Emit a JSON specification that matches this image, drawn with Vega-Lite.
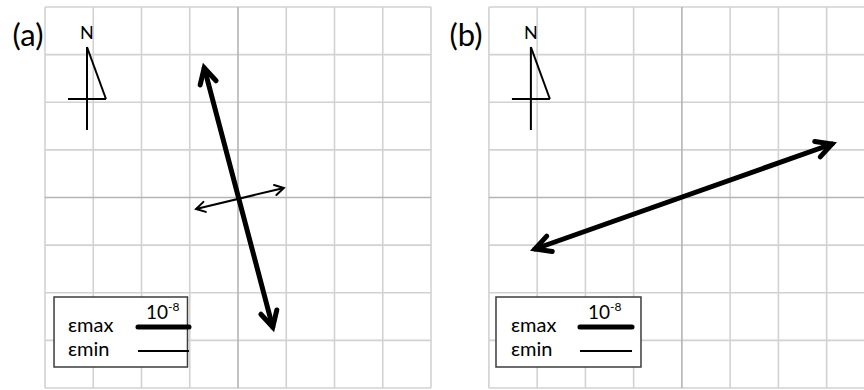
{
  "$schema": "https://vega.github.io/schema/vega-lite/v6.json",
  "width": 864,
  "height": 390,
  "autosize": {"type": "none"},
  "padding": 0,
  "background": "white",
  "config": {"view": {"stroke": null}, "text": {"font": "Lato, Open Sans, sans-serif"}},
  "datasets": {
    "grid": [
      {"x": 0, "y": 0, "x2": 0, "y2": 8, "kind": "minor"},
      {"x": 1, "y": 0, "x2": 1, "y2": 8, "kind": "minor"},
      {"x": 2, "y": 0, "x2": 2, "y2": 8, "kind": "minor"},
      {"x": 3, "y": 0, "x2": 3, "y2": 8, "kind": "minor"},
      {"x": 5, "y": 0, "x2": 5, "y2": 8, "kind": "minor"},
      {"x": 6, "y": 0, "x2": 6, "y2": 8, "kind": "minor"},
      {"x": 7, "y": 0, "x2": 7, "y2": 8, "kind": "minor"},
      {"x": 8, "y": 0, "x2": 8, "y2": 8, "kind": "minor"},
      {"x": 0, "y": 0, "x2": 8, "y2": 0, "kind": "minor"},
      {"x": 0, "y": 1, "x2": 8, "y2": 1, "kind": "minor"},
      {"x": 0, "y": 2, "x2": 8, "y2": 2, "kind": "minor"},
      {"x": 0, "y": 3, "x2": 8, "y2": 3, "kind": "minor"},
      {"x": 0, "y": 5, "x2": 8, "y2": 5, "kind": "minor"},
      {"x": 0, "y": 6, "x2": 8, "y2": 6, "kind": "minor"},
      {"x": 0, "y": 7, "x2": 8, "y2": 7, "kind": "minor"},
      {"x": 0, "y": 8, "x2": 8, "y2": 8, "kind": "minor"},
      {"x": 4, "y": 0, "x2": 4, "y2": 8, "kind": "center"},
      {"x": 0, "y": 4, "x2": 8, "y2": 4, "kind": "center"},
      {"x": 9.2, "y": 0, "x2": 9.2, "y2": 8, "kind": "minor"},
      {"x": 10.2, "y": 0, "x2": 10.2, "y2": 8, "kind": "minor"},
      {"x": 11.2, "y": 0, "x2": 11.2, "y2": 8, "kind": "minor"},
      {"x": 12.2, "y": 0, "x2": 12.2, "y2": 8, "kind": "minor"},
      {"x": 14.2, "y": 0, "x2": 14.2, "y2": 8, "kind": "minor"},
      {"x": 15.2, "y": 0, "x2": 15.2, "y2": 8, "kind": "minor"},
      {"x": 16.2, "y": 0, "x2": 16.2, "y2": 8, "kind": "minor"},
      {"x": 17.2, "y": 0, "x2": 17.2, "y2": 8, "kind": "minor"},
      {"x": 9.2, "y": 0, "x2": 17.2, "y2": 0, "kind": "minor"},
      {"x": 9.2, "y": 1, "x2": 17.2, "y2": 1, "kind": "minor"},
      {"x": 9.2, "y": 2, "x2": 17.2, "y2": 2, "kind": "minor"},
      {"x": 9.2, "y": 3, "x2": 17.2, "y2": 3, "kind": "minor"},
      {"x": 9.2, "y": 5, "x2": 17.2, "y2": 5, "kind": "minor"},
      {"x": 9.2, "y": 6, "x2": 17.2, "y2": 6, "kind": "minor"},
      {"x": 9.2, "y": 7, "x2": 17.2, "y2": 7, "kind": "minor"},
      {"x": 9.2, "y": 8, "x2": 17.2, "y2": 8, "kind": "minor"},
      {"x": 13.2, "y": 0, "x2": 13.2, "y2": 8, "kind": "center"},
      {"x": 9.2, "y": 4, "x2": 17.2, "y2": 4, "kind": "center"}
    ],
    "boxes": [
      {"panel": "a", "x": 0.187, "y": 1.911, "x2": 2.953, "y2": 0.441},
      {"panel": "b", "x": 9.347, "y": 1.911, "x2": 12.352, "y2": 0.441}
    ],
    "segs": [
      {"panel": "a", "kind": "max", "x": 3.30, "y": 6.72, "x2": 4.72, "y2": 1.28},
      {"panel": "a", "kind": "min", "x": 3.13, "y": 3.76, "x2": 4.95, "y2": 4.20},
      {"panel": "b", "kind": "max", "x": 10.155, "y": 2.919, "x2": 16.311, "y2": 5.123},
      {"panel": "a", "kind": "north", "x": 0.87, "y": 7.16, "x2": 0.87, "y2": 5.417},
      {"panel": "a", "kind": "north", "x": 0.87, "y": 7.16, "x2": 1.264, "y2": 6.068},
      {"panel": "a", "kind": "north", "x": 0.477, "y": 6.068, "x2": 1.264, "y2": 6.068},
      {"panel": "b", "kind": "north", "x": 10.07, "y": 7.16, "x2": 10.07, "y2": 5.417},
      {"panel": "b", "kind": "north", "x": 10.07, "y": 7.16, "x2": 10.464, "y2": 6.068},
      {"panel": "b", "kind": "north", "x": 9.677, "y": 6.068, "x2": 10.464, "y2": 6.068},
      {"panel": "a", "kind": "keymax", "x": 1.927, "y": 1.281, "x2": 2.984, "y2": 1.281},
      {"panel": "a", "kind": "keymin", "x": 1.927, "y": 0.777, "x2": 2.984, "y2": 0.777},
      {"panel": "b", "kind": "keymax", "x": 11.088, "y": 1.281, "x2": 12.166, "y2": 1.281},
      {"panel": "b", "kind": "keymin", "x": 11.088, "y": 0.777, "x2": 12.166, "y2": 0.777}
    ],
    "heads": [
      {"panel": "a", "kind": "max", "x": 3.30, "y": 6.72, "angle": 345.3},
      {"panel": "a", "kind": "max", "x": 4.72, "y": 1.28, "angle": 165.3},
      {"panel": "a", "kind": "min", "x": 3.13, "y": 3.76, "angle": 256.6},
      {"panel": "a", "kind": "min", "x": 4.95, "y": 4.20, "angle": 76.6},
      {"panel": "b", "kind": "max", "x": 10.155, "y": 2.919, "angle": 250.5},
      {"panel": "b", "kind": "max", "x": 16.311, "y": 5.123, "angle": 70.5}
    ],
    "texts": [
      {"kind": "panel", "x": -0.352, "y": 7.37, "text": "(a)"},
      {"kind": "panel", "x": 8.725, "y": 7.37, "text": "(b)"},
      {"kind": "north", "x": 0.87, "y": 7.433, "text": "N"},
      {"kind": "north", "x": 10.07, "y": 7.433, "text": "N"},
      {"kind": "key", "x": 0.477, "y": 1.302, "text": "εmax"},
      {"kind": "key", "x": 0.477, "y": 0.798, "text": "εmin"},
      {"kind": "key", "x": 9.658, "y": 1.302, "text": "εmax"},
      {"kind": "key", "x": 9.658, "y": 0.798, "text": "εmin"},
      {"kind": "unit", "x": 2.549, "y": 1.575, "text": "10"},
      {"kind": "unit", "x": 11.71, "y": 1.575, "text": "10"},
      {"kind": "sup", "x": 2.549, "y": 1.70, "text": "-8"},
      {"kind": "sup", "x": 11.71, "y": 1.70, "text": "-8"}
    ]
  },
  "encoding": {
    "x": {"field": "x", "type": "quantitative", "axis": null, "scale": {"domain": [-0.9326, 16.974], "nice": false, "zero": false}},
    "y": {"field": "y", "type": "quantitative", "axis": null, "scale": {"domain": [-0.042, 8.147], "nice": false, "zero": false}}
  },
  "layer": [
    {
      "data": {"name": "grid"},
      "transform": [{"filter": "datum.kind === 'minor'"}],
      "mark": {"type": "rule", "stroke": "#d2d2d2", "strokeWidth": 1.6},
      "encoding": {"x2": {"field": "x2"}, "y2": {"field": "y2"}}
    },
    {
      "data": {"name": "grid"},
      "transform": [{"filter": "datum.kind === 'center'"}],
      "mark": {"type": "rule", "stroke": "#b4b4b4", "strokeWidth": 1.6},
      "encoding": {"x2": {"field": "x2"}, "y2": {"field": "y2"}}
    },
    {
      "data": {"name": "boxes"},
      "mark": {"type": "rect", "fill": "white", "stroke": "#3c3c3c", "strokeWidth": 1.5},
      "encoding": {"x2": {"field": "x2"}, "y2": {"field": "y2"}}
    },
    {
      "data": {"name": "segs"},
      "transform": [{"filter": "datum.kind === 'max' || datum.kind === 'keymax'"}],
      "mark": {"type": "rule", "stroke": "black", "strokeWidth": 5, "strokeCap": "round"},
      "encoding": {"x2": {"field": "x2"}, "y2": {"field": "y2"}}
    },
    {
      "data": {"name": "segs"},
      "transform": [{"filter": "datum.kind === 'min' || datum.kind === 'keymin' || datum.kind === 'north'"}],
      "mark": {"type": "rule", "stroke": "black", "strokeWidth": 2},
      "encoding": {"x2": {"field": "x2"}, "y2": {"field": "y2"}}
    },
    {
      "data": {"name": "heads"},
      "transform": [{"filter": "datum.kind === 'max'"}],
      "mark": {"type": "point", "shape": "M-0.47,0.88L0,0L0.47,0.88", "filled": false, "stroke": "black", "strokeWidth": 5, "strokeCap": "round", "strokeJoin": "miter", "size": 1225, "opacity": 1},
      "encoding": {"angle": {"field": "angle", "type": "quantitative", "scale": null}}
    },
    {
      "data": {"name": "heads"},
      "transform": [{"filter": "datum.kind === 'min'"}],
      "mark": {"type": "point", "shape": "M-0.5,0.866L0,0L0.5,0.866", "filled": false, "stroke": "black", "strokeWidth": 2, "strokeCap": "round", "size": 420, "opacity": 1},
      "encoding": {"angle": {"field": "angle", "type": "quantitative", "scale": null}}
    },
    {
      "data": {"name": "texts"},
      "transform": [{"filter": "datum.kind === 'panel'"}],
      "mark": {"type": "text", "fontSize": 31, "align": "center", "baseline": "middle", "color": "black"},
      "encoding": {"text": {"field": "text"}}
    },
    {
      "data": {"name": "texts"},
      "transform": [{"filter": "datum.kind === 'north'"}],
      "mark": {"type": "text", "fontSize": 18, "align": "center", "baseline": "middle", "color": "black"},
      "encoding": {"text": {"field": "text"}}
    },
    {
      "data": {"name": "texts"},
      "transform": [{"filter": "datum.kind === 'key'"}],
      "mark": {"type": "text", "fontSize": 20, "align": "left", "baseline": "middle", "color": "black"},
      "encoding": {"text": {"field": "text"}}
    },
    {
      "data": {"name": "texts"},
      "transform": [{"filter": "datum.kind === 'unit'"}],
      "mark": {"type": "text", "fontSize": 19, "align": "right", "baseline": "middle", "color": "black"},
      "encoding": {"text": {"field": "text"}}
    },
    {
      "data": {"name": "texts"},
      "transform": [{"filter": "datum.kind === 'sup'"}],
      "mark": {"type": "text", "fontSize": 12, "align": "left", "baseline": "middle", "color": "black"},
      "encoding": {"text": {"field": "text"}}
    }
  ]
}
